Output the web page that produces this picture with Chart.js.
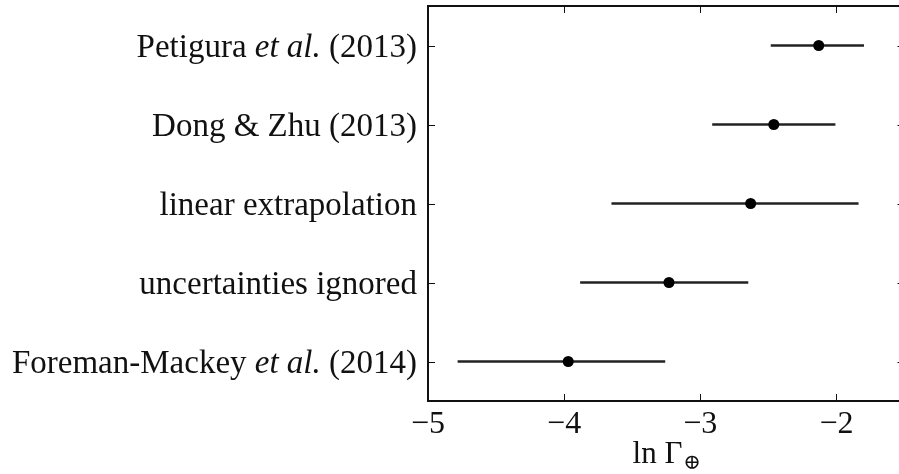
<!DOCTYPE html>
<html>
<head>
<meta charset="utf-8">
<script src="https://cdn.jsdelivr.net/npm/chart.js@4/dist/chart.umd.min.js"></script>
<style>
  html, body { margin: 0; padding: 0; background: #fff; overflow: hidden; }
  #wrap { position: relative; width: 910px; height: 474px; }
</style>
</head>
<body>
<div id="wrap"><canvas id="c"></canvas></div>
<script>
// Estimates of ln Γ⊕ with their error ranges
const studies = [
  'Petigura et al. (2013)',
  'Dong & Zhu (2013)',
  'linear extrapolation',
  'uncertainties ignored',
  'Foreman-Mackey et al. (2014)'
];
const centre = [-2.13, -2.46, -2.63, -3.23, -3.97];
const lower  = [-2.48, -2.91, -3.65, -3.88, -4.78];
const upper  = [-1.80, -2.01, -1.84, -2.65, -3.26];
const xTicks = [-5, -4, -3, -2];

const SERIF = '"Liberation Serif", "DejaVu Serif", serif';
const INK = '#111';

// Inward tick marks on all four sides plus the closed frame
const framePlugin = {
  id: 'frame',
  afterDraw(chart) {
    const { ctx, chartArea: a, scales: { x, y } } = chart;
    ctx.save();
    ctx.strokeStyle = INK;
    ctx.lineWidth = 1;
    ctx.beginPath();
    x.ticks.forEach(t => {
      const px = Math.round(x.getPixelForValue(t.value)) + 0.5;
      ctx.moveTo(px, a.bottom); ctx.lineTo(px, a.bottom - 7);
      ctx.moveTo(px, a.top); ctx.lineTo(px, a.top + 7);
    });
    y.ticks.forEach((t, i) => {
      const py = Math.round(y.getPixelForTick(i)) + 0.5;
      ctx.moveTo(a.left, py); ctx.lineTo(a.left + 7, py);
      ctx.moveTo(a.right, py); ctx.lineTo(a.right - 7, py);
    });
    ctx.stroke();
    ctx.lineWidth = 2;
    ctx.strokeRect(a.left, a.top, a.right - a.left, a.bottom - a.top);
    ctx.restore();
  }
};

// Category labels with "et al." set in italics, and the axis title with its subscript
const textPlugin = {
  id: 'richText',
  afterDraw(chart) {
    const { ctx, chartArea: a, scales: { y } } = chart;
    ctx.save();
    ctx.fillStyle = INK;
    ctx.textBaseline = 'alphabetic';
    const size = 33;
    studies.forEach((label, i) => {
      const parts = label.split(/(et al\.)/).filter(s => s.length);
      const fonts = parts.map(p => (p === 'et al.' ? 'italic ' : '') + size + 'px ' + SERIF);
      const widths = parts.map((p, k) => { ctx.font = fonts[k]; return ctx.measureText(p).width; });
      let xPos = a.left - 11 - widths.reduce((s, w) => s + w, 0);
      const py = y.getPixelForTick(i) + 11;
      parts.forEach((p, k) => {
        ctx.font = fonts[k];
        ctx.textAlign = 'left';
        ctx.fillText(p, xPos, py);
        xPos += widths[k];
      });
    });
    // axis title: ln Γ with a ⊕ subscript
    const main = 'ln Γ', sub = '⊕';
    ctx.font = '31px ' + SERIF;
    const wMain = ctx.measureText(main).width;
    ctx.font = '21px ' + SERIF;
    const wSub = ctx.measureText(sub).width;
    const cx = (a.left + a.right) / 2;
    const sx = cx - (wMain + wSub) / 2;
    ctx.font = '31px ' + SERIF;
    ctx.textAlign = 'left';
    ctx.fillText(main, sx, 463);
    ctx.font = '21px ' + SERIF;
    ctx.fillText(sub, sx + wMain + 1, 469);
    ctx.restore();
  }
};

new Chart(document.getElementById('c'), {
  type: 'bar',
  data: {
    labels: studies,
    datasets: [
      {
        label: 'range',
        data: lower.map((lo, i) => [lo, upper[i]]),
        backgroundColor: '#222',
        borderWidth: 0,
        borderSkipped: false,
        barThickness: 2,
        order: 2
      },
      {
        type: 'line',
        label: 'estimate',
        indexAxis: 'y',
        data: centre,
        showLine: false,
        pointRadius: 5.5,
        pointHoverRadius: 5.5,
        pointBackgroundColor: '#000',
        pointBorderWidth: 0,
        order: 1
      }
    ]
  },
  options: {
    indexAxis: 'y',
    responsive: true,
    maintainAspectRatio: false,
    animation: false,
    events: [],
    layout: { padding: { top: 6, right: 5, left: 0, bottom: 0 } },
    plugins: { legend: { display: false }, tooltip: { enabled: false } },
    scales: {
      x: {
        type: 'linear',
        position: 'bottom',
        min: -5,
        max: -1.5,
        afterBuildTicks(scale) { scale.ticks = xTicks.map(v => ({ value: v })); },
        afterFit(scale) { scale.height = 73; },
        grid: { display: true, drawOnChartArea: false, drawTicks: false, color: 'rgba(0,0,0,0)' },
        border: { display: false },
        ticks: {
          color: INK,
          padding: 4,
          maxRotation: 0,
          font: { family: SERIF, size: 32 },
          callback: v => (v < 0 ? '\u2212' : '') + Math.abs(v)
        }
      },
      y: {
        type: 'category',
        offset: true,
        afterFit(scale) { scale.width = 428; },
        grid: { display: false },
        border: { display: false },
        ticks: { display: false }
      }
    }
  },
  plugins: [framePlugin, textPlugin]
});
</script>
</body>
</html>
